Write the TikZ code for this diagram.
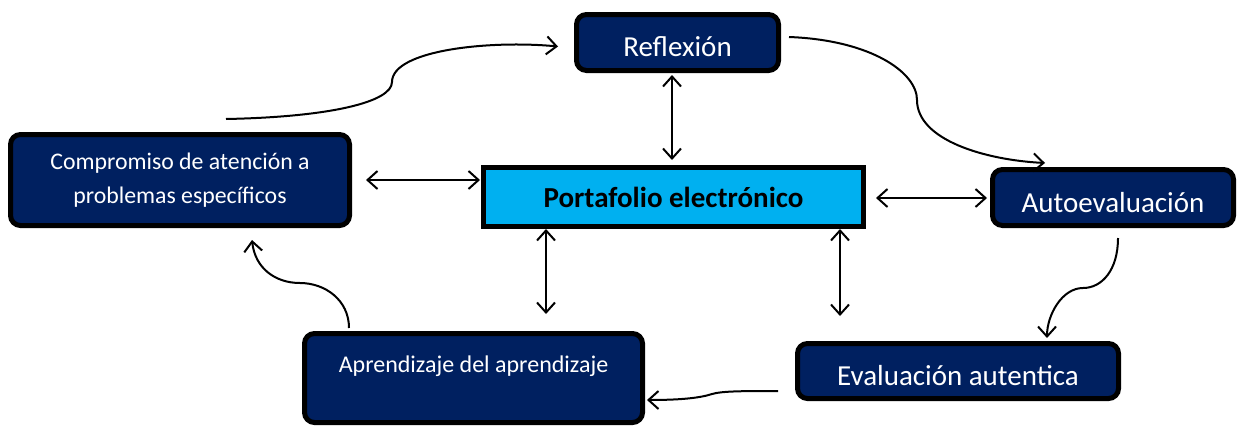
\documentclass[tikz,border=0pt]{standalone}
\usepackage{fontspec}
\setmainfont{Carlito}
\usetikzlibrary{arrows.meta}
\definecolor{navy}{HTML}{002060}
\definecolor{skyb}{HTML}{00B0F0}
\tikzset{
  darkbox/.style={draw=black, line width=5pt, fill=navy, rounded corners=10pt, text=white, inner sep=0pt, align=center},
  mainbox/.style={draw=black, line width=5pt, fill=skyb, text=black, inner sep=0pt, font=\fontsize{29}{34}\selectfont\bfseries},
  conn/.style={line width=2pt, -{Straight Barb[length=10pt,width=18pt,line width=2pt]}},
  dconn/.style={line width=2pt, {Straight Barb[length=10pt,width=18pt,line width=2pt]}-{Straight Barb[length=10pt,width=18pt,line width=2pt]}}
}
\begin{document}
\begin{tikzpicture}[x=1pt,y=-1pt]
\useasboundingbox (0,0) rectangle (1244,426);
\node[darkbox, minimum width=202pt, minimum height=56pt, text height=27pt, text depth=0pt, font=\fontsize{29}{34}\selectfont] (refl) at (677.5,42.5) {Reflexión};
\node[darkbox, minimum width=339pt, minimum height=91pt, font=\fontsize{23.8}{34}\selectfont] (comp) at (180,180) {Compromiso de atención a\\problemas específicos};
\node[mainbox, minimum width=380pt, minimum height=59pt, text height=20pt, text depth=0pt] (port) at (673.5,197) {Portafolio electrónico};
\node[darkbox, minimum width=241pt, minimum height=56pt, text height=29pt, text depth=0pt, font=\fontsize{29}{34}\selectfont] (auto) at (1113,197.5) {Autoevaluación};
\node[darkbox, minimum width=338pt, minimum height=89pt, text height=0pt, text depth=12pt, font=\fontsize{24}{34}\selectfont] (apre) at (473.5,378) {Aprendizaje del aprendizaje};
\node[darkbox, minimum width=321pt, minimum height=55pt, text height=28pt, text depth=0pt, font=\fontsize{29}{34}\selectfont] (eval) at (958,371) {Evaluación autentica};

% double arrows to the central node
\draw[dconn] ([xshift=-5.5pt,yshift=-2pt]refl.south) -- ([xshift=-1.5pt,yshift=5pt]port.north);
\draw[dconn] ([xshift=14pt]comp.east) -- ([xshift=-1pt,yshift=17pt]port.west);
\draw[dconn] ([xshift=10pt,yshift=-1pt]port.east) -- ([xshift=-3pt,yshift=-0.5pt]auto.west);
\draw[dconn] ([xshift=-127.5pt]port.south) -- ([xshift=72.5pt,yshift=17pt]apre.north);
\draw[dconn] ([xshift=166.5pt]port.south) -- ([xshift=-118pt,yshift=25pt]eval.north);

% cycle curves
\coordinate (c1) at (226,119);
\draw[conn] (c1) .. controls (330,117) and (392,102) .. (392,82)
  .. controls (392,50) and (490,40) .. ([xshift=-16pt,yshift=-4pt]refl.west);
\coordinate (c2) at (789,37);
\draw[conn] (c2) .. controls (870,40) and (917,72) .. (917,100)
  .. controls (917,140) and (985,160) .. ([xshift=-68pt,yshift=4pt]auto.north);
\coordinate (c3) at (1118,238);
\draw[conn] (c3) .. controls (1118,270) and (1102,288) .. (1083,288)
  .. controls (1062,288) and (1047,315) .. ([xshift=89pt,yshift=3pt]eval.north);
\coordinate (c4) at (778,391);
\draw[conn] (c4) .. controls (745,391) and (722,391) .. (712,394)
  .. controls (700,398) and (680,400) .. ([xshift=2pt,yshift=-22pt]apre.east);
\coordinate (c5) at (349,328);
\draw[conn] (c5) .. controls (349,300) and (325,283) .. (300,283)
  .. controls (275,283) and (255,268) .. ([xshift=72pt,yshift=-12pt]comp.south);
\end{tikzpicture}
\end{document}
